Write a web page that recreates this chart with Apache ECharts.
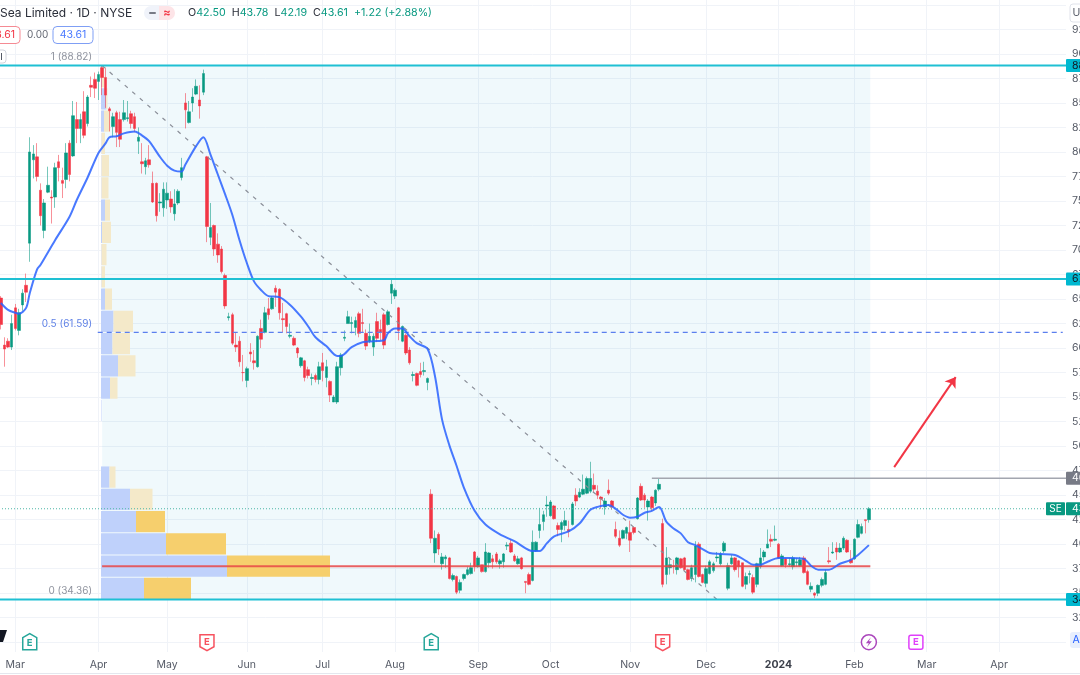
<!DOCTYPE html>
<html>
<head>
<meta charset="utf-8">
<title>Sea Limited daily</title>
<style>html,body{margin:0;padding:0;background:#fff}#chart{width:1080px;height:675px}</style>
<script src="https://cdn.jsdelivr.net/npm/echarts@6/dist/echarts.min.js"></script>
</head>
<body>
<div id="chart"></div>
<script>
// Daily candles, SE on NYSE, one row of ten sessions per line
const opens = [
65.1,60.3,60.7,60.1,64.1,61.8,64.4,66.4,70.7,79.2,
79.5,76.1,72.0,75.9,75.4,75.4,79.0,77.1,77.2,80.9,
79.6,83.3,82.4,84.1,82.9,86.8,87.4,87.2,88.6,87.6,
84.4,82.6,84.0,83.3,83.3,83.4,83.9,83.6,81.1,79.0,
78.5,79.2,76.8,76.8,74.8,74.3,75.1,75.2,73.7,74.8,
77.4,85.0,83.0,85.0,85.9,85.3,86.1,79.5,71.3,72.5,
70.6,70.1,67.4,63.1,63.4,60.3,60.7,57.5,56.7,59.6,
58.7,58.1,62.0,61.6,64.0,64.0,66.1,66.0,63.0,63.5,
61.2,61.0,60.0,58.2,58.7,57.8,56.9,57.2,56.8,58.5,
57.0,56.6,54.5,54.5,58.0,61.0,62.5,62.5,62.1,63.5,
62.6,61.5,60.7,60.1,62.7,61.9,63.4,62.4,65.6,65.3,
64.1,60.7,61.3,59.8,57.2,57.4,57.6,57.6,56.5,45.1,
39.1,41.0,38.0,38.5,38.6,36.4,36.7,35.3,36.5,36.9,
37.0,39.2,37.7,37.9,37.2,38.1,38.5,39.0,38.0,38.2,
39.8,40.1,38.8,38.0,38.6,36.2,36.9,36.3,39.3,41.4,
42.3,43.9,42.9,43.9,41.9,41.5,41.9,41.5,42.0,45.0,
44.8,45.1,45.2,45.4,46.0,45.4,44.8,43.8,45.5,44.4,
41.5,40.6,40.6,41.1,41.2,41.7,42.6,45.9,45.0,43.8,
44.8,44.2,45.6,42.1,36.9,37.6,37.8,37.4,38.5,38.6,
37.4,36.5,36.9,40.0,36.9,36.0,37.0,37.3,38.6,38.0,
39.3,35.5,38.0,38.6,38.3,38.1,35.9,36.9,36.6,35.9,
37.7,38.7,39.6,40.5,40.4,40.0,37.8,38.5,37.9,37.7,
38.1,37.8,38.6,37.2,35.4,35.0,35.0,35.8,35.9,38.3,
39.1,39.6,39.2,39.6,40.4,38.4,38.5,40.7,41.1,42.5,
42.50];
const highs = [
65.3,61.1,61.0,63.4,64.5,64.0,66.0,67.6,81.5,80.7,
80.9,76.8,75.2,78.5,76.1,78.9,79.7,78.4,80.9,81.2,
85.2,85.1,83.9,86.2,85.8,87.7,88.1,88.2,88.82,88.6,
84.6,84.0,84.2,84.1,85.3,85.2,84.2,84.0,82.5,80.9,
79.4,80.7,78.0,76.9,75.8,76.9,76.9,76.0,76.2,76.2,
79.4,86.0,85.2,86.5,87.4,86.8,88.4,79.6,74.8,72.6,
71.7,70.4,67.6,63.6,63.6,61.6,61.2,59.3,58.1,60.5,
59.8,61.3,62.9,64.2,65.1,65.3,66.4,66.1,64.6,63.6,
62.5,61.2,60.1,59.1,58.8,58.1,57.4,57.4,58.6,59.5,
58.8,56.7,55.2,58.6,59.5,61.8,63.8,63.2,63.2,63.7,
64.0,61.9,62.5,61.5,63.6,62.9,63.6,63.9,67.0,66.1,
64.2,62.3,61.5,60.1,57.6,57.5,58.5,58.6,57.0,45.6,
41.4,41.2,39.1,38.9,38.7,37.0,36.8,36.4,37.0,37.7,
38.1,39.3,38.8,37.9,40.1,39.2,38.9,39.2,38.5,39.1,
40.2,40.5,39.0,38.8,38.7,36.2,37.1,41.4,40.3,43.7,
43.4,44.9,44.5,44.0,42.2,42.4,43.4,42.4,44.3,45.7,
45.7,47.1,46.9,48.4,47.2,46.0,44.9,44.7,46.6,44.5,
42.3,41.4,41.5,41.8,42.4,41.8,44.8,46.2,45.2,44.6,
44.9,45.6,46.7,42.6,39.7,38.6,38.4,38.7,38.6,38.7,
37.5,37.9,40.3,40.2,37.0,37.8,38.4,38.2,39.2,39.2,
40.3,38.1,38.9,38.7,38.4,38.1,37.1,37.3,36.9,38.1,
39.6,39.4,41.5,41.0,41.9,40.1,39.0,38.6,38.6,38.8,
38.6,38.7,38.8,37.4,36.1,35.1,35.9,36.6,37.4,39.7,
40.2,40.2,40.1,40.8,40.5,39.4,40.6,42.5,42.1,42.5,
43.78];
const lows = [
61.9,58.1,60.0,59.8,61.8,61.3,63.8,64.7,68.8,77.3,
77.0,72.5,71.2,75.8,72.7,74.3,77.0,75.3,76.3,77.0,
79.5,80.9,80.9,81.4,82.6,85.6,85.5,85.3,85.8,84.5,
82.1,81.5,80.5,80.5,83.1,83.1,82.4,82.0,79.8,77.8,
77.7,78.4,74.8,72.9,73.9,73.4,74.2,73.8,73.0,74.6,
77.1,82.4,82.9,84.1,85.8,83.4,85.8,70.8,70.5,69.4,
68.7,67.6,64.0,62.8,60.3,59.6,58.1,56.6,56.0,58.6,
57.8,58.0,60.0,61.5,62.9,63.9,64.2,62.9,61.6,61.5,
61.0,60.2,59.0,58.0,56.6,56.9,56.2,56.5,56.3,56.6,
56.0,54.5,54.5,54.3,57.2,60.7,62.5,61.5,61.3,61.1,
61.6,59.8,60.5,59.2,60.6,60.8,59.9,62.3,64.5,65.0,
60.8,60.6,59.3,58.3,56.6,56.1,57.0,57.2,55.7,40.1,
38.1,38.9,37.4,37.6,36.4,36.2,34.9,35.0,36.3,36.8,
36.9,37.2,37.6,37.1,37.1,37.6,37.5,38.0,37.5,37.6,
39.4,39.1,38.2,37.9,37.4,35.0,35.8,36.2,39.2,40.6,
41.4,42.8,42.8,42.5,40.8,40.2,41.4,40.7,41.9,43.9,
44.7,45.0,45.1,45.2,45.3,44.6,43.6,43.0,45.0,43.5,
40.6,39.7,40.5,40.5,39.2,41.0,42.5,44.4,43.7,42.4,
43.4,43.9,45.4,35.6,35.9,36.9,37.0,36.9,37.5,37.3,
36.3,36.2,36.1,36.6,36.0,35.6,36.9,37.1,38.2,37.8,
39.1,35.3,37.9,37.2,36.6,35.6,35.4,36.0,34.9,35.6,
37.5,38.3,39.6,39.7,40.3,38.5,37.7,37.6,37.7,37.4,
37.7,37.7,37.0,35.8,35.1,34.5,34.7,35.6,35.8,38.0,
39.0,38.4,39.1,39.4,39.1,38.0,38.4,40.6,41.0,41.1,
42.19];
const closes = [
62.4,59.9,60.1,62.5,62.0,63.6,65.6,65.7,80.0,79.8,
77.5,73.5,74.8,76.6,75.3,78.4,78.4,76.8,79.9,77.7,
83.7,82.4,83.3,81.7,85.6,86.6,86.5,87.9,87.6,85.8,
84.2,83.6,82.0,81.3,84.0,83.5,82.9,82.4,81.5,78.8,
79.1,78.7,74.9,73.5,74.9,76.2,75.8,74.4,74.7,76.0,
78.4,84.3,84.1,85.6,86.7,84.7,88.0,72.4,72.3,70.1,
69.5,67.8,64.3,63.2,60.5,60.1,58.6,57.5,57.9,59.4,
58.5,61.2,60.9,63.6,63.4,65.1,65.7,63.6,62.9,62.2,
61.3,60.3,59.5,59.0,57.0,57.2,57.0,56.8,58.1,57.7,
58.1,55.2,55.0,58.1,59.3,61.1,63.2,62.6,62.8,61.5,
62.5,60.2,61.2,61.2,61.0,61.6,60.3,63.7,66.5,65.9,
61.8,62.2,59.5,58.5,57.3,56.2,57.3,57.7,56.9,40.6,
40.6,39.5,38.7,38.7,36.5,36.8,35.1,36.1,36.9,37.4,
37.6,37.7,38.6,37.2,39.2,39.1,38.2,38.2,38.3,39.0,
39.9,39.2,38.3,38.5,37.5,36.1,35.9,40.2,40.2,42.0,
43.0,44.0,44.3,42.6,41.5,42.2,42.4,41.3,44.1,44.4,
45.3,45.6,46.7,46.7,45.6,45.0,44.6,44.4,45.2,43.8,
40.8,39.9,41.4,41.7,40.4,41.2,44.7,44.5,44.5,44.4,
43.7,45.5,46.1,35.9,38.6,37.9,37.7,38.6,37.6,37.4,
36.4,37.6,39.8,36.7,36.1,37.5,38.2,38.0,38.7,39.0,
40.1,37.8,38.6,37.4,37.7,35.7,36.7,37.0,35.1,38.0,
38.6,39.2,40.0,40.3,40.5,38.6,38.8,37.9,38.0,38.6,
38.2,38.4,37.1,35.9,35.7,34.8,35.8,36.4,37.1,38.2,
39.2,39.2,39.6,40.6,39.2,38.1,40.5,42.0,41.8,42.4,
43.61];

// Moving average vertices: [session index, price]
const movingAverage = [
[0,64.6],[2,63.9],[4,63.6],[5,63.5],[7,64.1],[8,65.6],[10,68.0],[11,68.5],[15,71.0],[19,73.4],
[21,75.1],[24,77.4],[27,79.9],[29,80.9],[30,81.5],[32,81.6],[34,81.9],[37,82.1],[39,81.7],[41,81.1],
[44,79.5],[46,78.6],[48,78.1],[50,78.0],[51,78.7],[54,80.6],[56,81.5],[58,79.7],[60,77.7],[62,75.7],
[64,73.6],[66,71.0],[68,68.7],[70,66.8],[72,65.9],[74,65.3],[77,65.2],[80,64.4],[83,63.2],[85,62.2],
[87,61.1],[90,60.2],[93,59.2],[94,59.2],[95,59.4],[97,60.1],[100,60.6],[103,60.7],[106,60.8],[107,61.5],
[109,62.0],[111,62.0],[113,61.2],[115,60.5],[118,59.9],[120,57.2],[122,52.7],[124,50.1],[126,48.0],[128,45.8],
[131,43.4],[134,42.0],[138,41.0],[142,40.3],[145,39.6],[147,39.3],[149,39.3],[151,40.1],[153,40.8],[157,41.3],
[160,42.1],[163,43.5],[165,43.8],[168,44.0],[170,43.6],[172,43.0],[174,42.7],[176,42.8],[178,43.2],[180,43.4],
[182,43.8],[184,42.3],[186,41.6],[188,41.1],[190,40.2],[192,39.9],[194,39.5],[196,39.1],[199,39.0],[203,38.9],
[206,38.3],[208,37.9],[210,37.9],[212,38.2],[215,38.6],[218,38.6],[222,38.5],[224,37.8],[226,37.4],[229,37.4],
[232,38.0],[235,38.4],[237,38.9],[240,39.9]];

// Volume profile rows, lowest price first
const profileUp   = [43,126,65,35,29,8.5,0,0,0.5,9,17,11.5,12.5,4,0.5,0.5,1,4,0.5,0.5,0.5,3,5,1];
const profileDown = [47,103,60,29,22.5,6,0,0,0,7.5,17.5,17.5,19.5,7,3.5,5,9,5,7,7.5,3.5,6,1.5,2];
const valueAreaRows = 4;

// Price levels drawn over the candles
const fibHigh = 88.82;
const fibMid = 61.59;
const fibLow = 34.36;
const fibStartIndex = 28;
const fibEndIndex = 240.4;
const fibDiagonalEnd = 198;
const levelPrices = [88.82, 67.04, 34.36];
const levelTags = ['88.82', '67.04', '34.36'];
const resistancePrice = 46.72;
const resistanceStart = 180;
const pocPrice = 37.75;
const lastClose = 43.61;
const projection = [[247, 47.86], [264, 57.04]];

// Axis labels
const priceTicks = [30,32.5,35,37.5,40,42.5,45,47.5,50,52.5,55,57.5,60,62.5,65,67.5,70,72.5,75,77.5,80,82.5,85,87.5,90,92.5,95];
const priceLabels = [32.5,35,37.5,40,42.5,45,47.5,50,52.5,55,57.5,60,62.5,65,67.5,70,72.5,75,77.5,80,82.5,85,87.5,90,92.5];
const tickDates = ['2023-03-01','2023-04-03','2023-05-01','2023-06-01','2023-07-03','2023-08-01','2023-09-01','2023-10-02','2023-11-01','2023-12-01','2024-01-02','2024-02-01','2024-03-01','2024-04-01'];
const tickLabels = ['Mar','Apr','May','Jun','Jul','Aug','Sep','Oct','Nov','Dec','2024','Feb','Mar','Apr'];
const marketHolidays = ['2023-04-07','2023-05-29','2023-06-19','2023-07-04','2023-09-04','2023-11-23','2023-12-25','2024-01-01','2024-01-15','2024-02-19','2024-03-29'];

// Earnings and dividend flags along the time axis
const earningsBeat = [8, 119];
const earningsMiss = [57, 183];
const splitEvent = [240];
const upcomingEarnings = [253];

// Trading calendar on the horizontal axis
const sessionCount = 295;
const sessions = [];
for (let t = Date.UTC(2023, 1, 23); sessions.length < sessionCount; t += 86400000) {
  const d = new Date(t);
  const key = d.toISOString().slice(0, 10);
  if (d.getUTCDay() % 6 !== 0 && !marketHolidays.includes(key)) sessions.push(key);
}

const UP = '#089981', DOWN = '#f23645', TEAL = '#1fc0d3', BLUE = '#2962ff';
const FONT = 'Inter, "Liberation Sans", sans-serif';
const tickLabelFor = Object.fromEntries(tickDates.map((d, i) => [d, tickLabels[i]]));
const isMonthStart = (i, value) => value in tickLabelFor;

const spanLine = (name, points, lineStyle, z, extra) => Object.assign({
  name, type: 'line', xAxisIndex: 1, yAxisIndex: 0, data: points, symbol: 'none', silent: true, z,
  lineStyle, animation: false
}, extra || {});

const fullSpan = p => [[-0.5, p], [sessionCount - 0.5, p]];

const renderProfileRow = (params, api) => {
  const low = api.value(0), high = api.value(1), up = api.value(2), down = api.value(3);
  const y0 = api.coord([0, high])[1] + 0.5, y1 = api.coord([0, low])[1] - 0.5;
  const x0 = api.coord([0, low])[0], x1 = api.coord([up, low])[0], x2 = api.coord([up + down, low])[0];
  const strong = params.dataIndex < valueAreaRows;
  return { type: 'group', children: [
    { type: 'rect', shape: { x: x0, y: y0, width: x1 - x0, height: y1 - y0 }, style: { fill: '#bfd1fb' } },
    { type: 'rect', shape: { x: x1, y: y0, width: x2 - x1, height: y1 - y0 }, style: { fill: strong ? '#f6cf6d' : '#f4e9c9' } }
  ]};
};

const profileRowHeight = (fibHigh - fibLow) / profileUp.length;
const profileRows = profileUp.map((u, i) => [fibLow + i * profileRowHeight, fibLow + (i + 1) * profileRowHeight, u, profileDown[i]]);

const priceTags = [
  ...levelPrices.map((p, i) => ({ price: p, text: levelTags[i], bg: '#00b8d0', fg: '#131722' })),
  { price: resistancePrice, text: String(resistancePrice), bg: '#787b86', fg: '#ffffff' },
  { price: lastClose, text: String(lastClose), bg: UP, fg: '#ffffff', symbol: 'SE' }
];

const renderTag = (params, api) => {
  const tag = priceTags[params.dataIndex];
  const y = api.coord([0, tag.price])[1];
  const x = params.coordSys.x + params.coordSys.width;
  const children = [
    { type: 'rect', shape: { x, y: y - 6.5, width: 30, height: 13, r: 1 }, style: { fill: tag.bg } },
    { type: 'text', style: { text: tag.text, x: x + 6, y, fill: tag.fg, font: '10.5px ' + FONT, verticalAlign: 'middle' } }
  ];
  if (tag.symbol) {
    children.push(
      { type: 'rect', shape: { x: x - 20, y: y - 6.5, width: 19, height: 13, r: 1 }, style: { fill: tag.bg } },
      { type: 'text', style: { text: tag.symbol, x: x - 10.5, y, fill: tag.fg, font: '10px ' + FONT, align: 'center', verticalAlign: 'middle' } }
    );
  }
  return { type: 'group', children };
};

const fibNotes = [
  { price: fibHigh, text: '1 (88.82)', fill: '#8f939e' },
  { price: fibMid, text: '0.5 (61.59)', fill: '#5f81e6' },
  { price: fibLow, text: '0 (34.36)', fill: '#8f939e' }
];
const renderFibNote = (params, api) => {
  const note = fibNotes[params.dataIndex];
  const p = api.coord([fibStartIndex, note.price]);
  return { type: 'text', style: { text: note.text, x: p[0] - 10, y: p[1] - 8, fill: note.fill, font: '10px ' + FONT, align: 'right', verticalAlign: 'middle' } };
};

const flag = (x, y, color, pointUp) => {
  const h = 7.5, w = 7;
  const points = pointUp
    ? [[x - w, y - h + 3], [x, y - h - 1], [x + w, y - h + 3], [x + w, y + h], [x - w, y + h]]
    : [[x - w, y - h], [x + w, y - h], [x + w, y + h - 3], [x, y + h + 1], [x - w, y + h - 3]];
  return { type: 'group', children: [
    { type: 'polygon', shape: { points }, style: { fill: '#fff', stroke: color, lineWidth: 1.5 } },
    { type: 'text', style: { text: 'E', x, y: pointUp ? y + 1 : y - 0.5, fill: color, font: 'bold 9.5px ' + FONT, align: 'center', verticalAlign: 'middle' } }
  ]};
};
const eventLevel = 30;
const renderEvent = kind => (params, api) => {
  const p = api.coord([api.value(0), eventLevel]);
  const x = p[0], y = p[1];
  if (kind === 'beat') return flag(x, y, '#26a69a', true);
  if (kind === 'miss') return flag(x, y, '#f7525f', false);
  if (kind === 'next') return { type: 'group', children: [
    { type: 'rect', shape: { x: x - 7, y: y - 7, width: 14, height: 14, r: 2 }, style: { fill: '#fff', stroke: '#e040fb', lineWidth: 1.5 } },
    { type: 'text', style: { text: 'E', x, y, fill: '#e040fb', font: 'bold 9.5px ' + FONT, align: 'center', verticalAlign: 'middle' } }
  ]};
  return { type: 'group', children: [
    { type: 'circle', shape: { cx: x, cy: y, r: 7.5 }, style: { fill: '#fff', stroke: '#ab47bc', lineWidth: 1.5 } },
    { type: 'polygon', shape: { points: [[x + 2, y - 5], [x - 3, y + 1], [x, y + 1], [x - 2, y + 5], [x + 3, y - 1], [x, y - 1]] }, style: { fill: '#ab47bc' } }
  ]};
};
const eventSeries = (name, indexes, kind) => ({
  name, type: 'custom', xAxisIndex: 1, yAxisIndex: 0, z: 12, silent: true,
  data: indexes.map(i => [i]), encode: { x: 0 }, renderItem: renderEvent(kind)
});

const txt = (text, x, y, fill, font, extra) => ({
  type: 'text', z: 50, silent: true,
  style: Object.assign({ text, x, y, fill, font: font + ' ' + FONT, verticalAlign: 'middle' }, extra || {})
});
const box = (x, y, width, height, r, fill, stroke) => ({
  type: 'rect', z: 49, silent: true, shape: { x, y, width, height, r },
  style: { fill, stroke, lineWidth: 1 }
});

const chart = echarts.init(document.getElementById('chart'), null, { renderer: 'canvas' });
chart.setOption({
  animation: false,
  backgroundColor: '#ffffff',
  textStyle: { fontFamily: FONT },
  grid: { left: -1, right: 14, top: 0, bottom: 23, outerBoundsMode: 'none' },
  xAxis: [
    {
      type: 'category', data: sessions, boundaryGap: true,
      axisLine: { show: false }, axisTick: { show: false },
      splitLine: { show: true, interval: isMonthStart, alignWithLabel: true, lineStyle: { color: '#f0f3f8', width: 1 } },
      axisLabel: {
        interval: isMonthStart, margin: 7, color: '#555a66', fontSize: 10.5, fontFamily: FONT, hideOverlap: false,
        formatter: value => {
          const label = tickLabelFor[value];
          return label === '2024' ? '{year|2024}' : (label || '');
        },
        rich: { year: { fontWeight: 'bold', color: '#3c404b', fontSize: 10.5, fontFamily: FONT } }
      }
    },
    { type: 'value', show: false, min: -0.5, max: sessionCount - 0.5 },
    { type: 'value', show: false, min: -102, max: 965 }
  ],
  yAxis: {
    type: 'value', position: 'right', min: 29, max: 95.5, scale: true,
    axisLine: { show: false },
    axisTick: { show: false, customValues: priceTicks },
    splitLine: { show: true, lineStyle: { color: '#f0f3f8', width: 1 } },
    axisLabel: {
      customValues: priceLabels, margin: 6, color: '#555a66', fontSize: 10.5, fontFamily: FONT,
      formatter: v => v.toFixed(2)
    }
  },
  series: [
    {
      name: 'Fib range', type: 'custom', xAxisIndex: 1, yAxisIndex: 0, z: 1, silent: true,
      data: [[fibStartIndex, fibHigh, fibEndIndex, fibLow]],
      encode: { x: [0, 2], y: [1, 3] },
      renderItem: (params, api) => {
        const a = api.coord([api.value(0), api.value(1)]);
        const b = api.coord([api.value(2), api.value(3)]);
        return { type: 'rect', shape: { x: a[0], y: a[1], width: b[0] - a[0], height: b[1] - a[1] }, style: { fill: 'rgba(0,150,200,0.06)' } };
      }
    },
    {
      name: 'Volume profile', type: 'custom', xAxisIndex: 2, yAxisIndex: 0, z: 2, silent: true,
      data: profileRows, encode: { x: [2, 3], y: [0, 1] }, renderItem: renderProfileRow
    },
    {
      name: 'SE', type: 'candlestick', xAxisIndex: 0, yAxisIndex: 0, z: 4, barWidth: 3, silent: true,
      data: opens.map((o, i) => [o, closes[i], lows[i], highs[i]]),
      itemStyle: {
        color: UP, color0: DOWN,
        borderColor: 'rgba(8,153,129,0.55)', borderColor0: 'rgba(242,54,69,0.55)', borderWidth: 1
      }
    },
    spanLine('Moving average', movingAverage, { color: BLUE, width: 2, opacity: 0.85 }, 6, { smooth: 0.3 }),
    spanLine('Fib diagonal', [[fibStartIndex, fibHigh], [fibDiagonalEnd, fibLow]], { color: '#8a8e98', width: 1.2, type: [4, 6] }, 5),
    spanLine('Fib 0.5', [[26.8, fibMid], [293.6, fibMid]], { color: '#5b7fee', width: 1.3, type: [5, 4] }, 5),
    ...levelPrices.map(p => spanLine('Level ' + p, fullSpan(p), { color: TEAL, width: 2 }, 7)),
    spanLine('Resistance', [[resistanceStart, resistancePrice], [sessionCount - 0.5, resistancePrice]], { color: '#a3a6af', width: 1.5 }, 5),
    spanLine('Point of control', [[fibStartIndex, pocPrice], [fibEndIndex, pocPrice]], { color: 'rgba(232,70,70,0.85)', width: 2 }, 5),
    spanLine('Last close', fullSpan(lastClose), { color: '#4db6a6', width: 1, type: [1, 2] }, 5),
    {
      name: 'Projection', type: 'lines', coordinateSystem: 'cartesian2d', xAxisIndex: 1, yAxisIndex: 0, z: 8, silent: true,
      symbol: ['none', 'arrow'], symbolSize: 10,
      lineStyle: { color: DOWN, width: 2, opacity: 1 },
      data: [{ coords: projection }]
    },
    {
      name: 'Fib notes', type: 'custom', xAxisIndex: 1, yAxisIndex: 0, z: 9, silent: true,
      data: fibNotes.map(n => [fibStartIndex, n.price]), encode: { x: 0, y: 1 }, renderItem: renderFibNote
    },
    eventSeries('Earnings beat', earningsBeat, 'beat'),
    eventSeries('Earnings miss', earningsMiss, 'miss'),
    eventSeries('Split', splitEvent, 'split'),
    eventSeries('Next earnings', upcomingEarnings, 'next'),
    {
      name: 'Price tags', type: 'custom', xAxisIndex: 1, yAxisIndex: 0, z: 20, silent: true,
      data: priceTags.map(t => [0, t.price]), encode: { x: 0, y: 1 }, renderItem: renderTag
    }
  ],
  graphic: [
    txt('Sea Limited · 1D · NYSE', 0, 13, '#2a2e39', '12px'),
    { type: 'rect', z: 49, silent: true, shape: { x: 144, y: 6, width: 15, height: 14, r: [7, 0, 0, 7] }, style: { fill: '#f0f3fa' } },
    { type: 'rect', z: 49, silent: true, shape: { x: 159, y: 6, width: 16, height: 14, r: [0, 7, 7, 0] }, style: { fill: '#fde4e7' } },
    { type: 'rect', z: 50, silent: true, shape: { x: 149, y: 12, width: 7, height: 2, r: 1 }, style: { fill: '#787b86' } },
    txt('≈', 167, 13, '#f23645', 'bold 11px', { align: 'center' }),
    { type: 'text', z: 50, silent: true, style: {
      x: 188, y: 13, verticalAlign: 'middle', font: '10.7px ' + FONT,
      text: '{k|O}{v|42.50}  {k|H}{v|43.78}  {k|L}{v|42.19}  {k|C}{v|43.61}  {v|+1.22 (+2.88%)}',
      rich: {
        k: { fill: '#2a2e39', font: '10.7px ' + FONT },
        v: { fill: UP, font: '10.7px ' + FONT }
      }
    }},
    box(-20, 26.5, 40, 17, 4, '#ffffff', '#f58a93'),
    txt('43.61', 15, 35, '#f23645', '10.5px', { align: 'right' }),
    txt('0.00', 27, 35, '#666a75', '10px'),
    box(53, 26.5, 40, 17, 4, '#ffffff', '#7f9ff5'),
    txt('43.61', 73, 35, BLUE, '10.5px', { align: 'center', opacity: 0.85 }),
    box(-10, 50, 16, 13, 3, '#ffffff', '#d1d4dc'),
    { type: 'rect', z: 50, silent: true, shape: { x: 1, y: 53, width: 1, height: 7 }, style: { fill: '#555a66' } },
    { type: 'polygon', z: 50, silent: true, shape: { points: [[0, 630], [7, 630], [3, 642], [0, 642]] }, style: { fill: '#131722' } },
    box(1070, 4, 24, 18, 3, '#ffffff', '#e0e3eb'),
    txt('USD', 1072.5, 13, '#555a66', '10.5px'),
    { type: 'rect', z: 49, silent: true, shape: { x: 1070, y: 632, width: 24, height: 16, r: 3 }, style: { fill: '#e8effd' } },
    txt('A', 1072.5, 640, BLUE, '10.5px'),
    { type: 'rect', z: 49, silent: true, shape: { x: 0, y: 673, width: 1080, height: 1 }, style: { fill: '#e4e7ee' } }
  ]
});
</script>
</body>
</html>
